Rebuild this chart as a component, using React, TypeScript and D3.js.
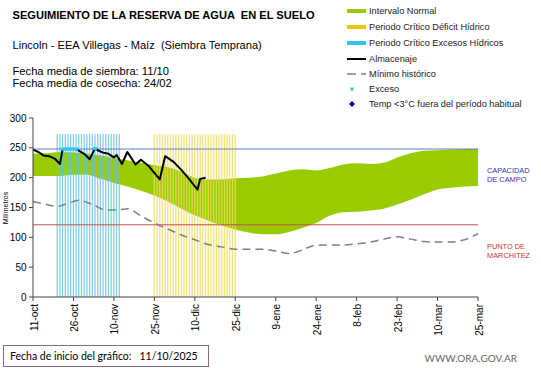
import * as React from 'react';
import * as d3 from 'd3';

// days counted from 11-oct
const tickLabels = ['11-oct', '26-oct', '10-nov', '25-nov', '10-dic', '25-dic', '9-ene', '24-ene', '8-feb', '23-feb', '10-mar', '25-mar'];

const bandDays = [0, 5, 10, 15, 20, 25, 30, 35, 40, 45, 50, 55, 60, 65, 70, 75, 80, 85, 90, 95, 100, 105, 110, 115, 120, 125, 130, 135, 140, 145, 150, 155, 160, 165];
const bandHigh = [240, 241, 243, 242, 240, 237, 233, 229, 225, 221, 218, 210, 200, 197, 197, 199, 200, 202, 207, 212, 214, 212, 216, 222, 224, 223, 225, 234, 241, 245, 246, 247, 248, 248];
const bandLow = [203, 203, 203, 205, 205, 198, 191, 185, 178, 170, 160, 148, 137, 128, 120, 113, 108, 105, 105, 109, 116, 124, 136, 142, 143, 145, 148, 155, 163, 172, 180, 183, 185, 186];

const minDays = [0, 5, 9, 13, 17, 22, 27, 32, 35, 40, 45, 50, 55, 60, 65, 70, 75, 80, 85, 90, 95, 100, 104, 110, 115, 120, 125, 130, 135, 140, 145, 150, 155, 160, 165];
const minValues = [160, 155, 152, 157, 162, 155, 146, 146, 148, 136, 124, 114, 104, 96, 88, 84, 80, 80, 80, 77, 73, 79, 86, 87, 87, 89, 92, 97, 101, 97, 93, 92, 92, 96, 106];

const storageDays = [0, 2, 4, 6, 8, 10, 11, 16, 19, 21, 23, 24, 26, 28, 30, 31, 33, 35, 38, 40, 43, 47, 49, 52, 55, 58, 61, 62, 64];
const storageValues = [247, 243, 237, 236, 232, 223, 248, 248, 240, 231, 249, 246, 242, 240, 234, 238, 223, 243, 222, 230, 219, 197, 236, 227, 213, 197, 180, 198, 200];

const excessDays = [11, 12, 13, 14, 15, 16, 23];
const excessValues = [248, 248, 248, 248, 248, 248, 249];

const wetPeriod = [9, 32];
const dryPeriod = [45, 75];
const periodTop = 273;

const fieldCapacity = 248;
const wiltingPoint = 121;

const legendItems = [
  'Intervalo Normal',
  'Periodo Crítico Déficit Hídrico',
  'Periodo Crítico Excesos Hídricos',
  'Almacenaje',
  'Mínimo histórico',
  'Exceso',
  'Temp <3°C fuera del período habitual',
];

const x = d3.scaleLinear().domain([0, 165]).range([33, 478]);
const y = d3.scaleLinear().domain([0, 300]).range([297, 118]);

const pre = { whiteSpace: 'pre' } as React.CSSProperties;

export default function App() {
  const band = bandDays.map((d, i) => ({ d, hi: bandHigh[i], lo: bandLow[i] }));
  const bandPath = d3.area<any>()
    .x(p => x(p.d)).y0(p => y(p.lo)).y1(p => y(p.hi))
    .curve(d3.curveMonotoneX)(band);
  const minPath = d3.line<number>()
    .x((_, i) => x(minDays[i])).y(v => y(v))
    .curve(d3.curveMonotoneX)(minValues);
  const storagePath = d3.line<number>()
    .x((_, i) => x(storageDays[i])).y(v => y(v))(storageValues);

  const wetBars = d3.range(wetPeriod[0], wetPeriod[1] + 1);
  const dryBars = d3.range(dryPeriod[0], dryPeriod[1] + 1);
  const ticks = tickLabels.map((t, i) => ({ t, d: i * 15 }));

  const font = 'Liberation Sans, Arial, sans-serif';
  const lx = 347;
  const rowsY = [11, 27, 43, 59, 74, 89, 104];

  return (
    <div style={{ position: 'fixed', left: 0, top: 0 }}>
      <svg width={541} height={368} style={{ display: 'block', background: '#fff' }} fontFamily={font}>
        <text x={12.5} y={19} fontSize={11.1} fontWeight="bold" style={pre}>SEGUIMIENTO DE LA RESERVA DE AGUA  EN EL SUELO</text>
        <text x={12.5} y={49} fontSize={11.1} style={pre}>Lincoln - EEA Villegas - Maíz  (Siembra Temprana)</text>
        <text x={12.5} y={75} fontSize={11.2}>Fecha media de siembra: 11/10</text>
        <text x={12.5} y={87} fontSize={11.2}>Fecha media de cosecha: 24/02</text>

        {/* legend */}
        <g fontSize={9.2} fill="#222">
          <rect x={lx} y={rowsY[0] - 2} width={19} height={4} fill="#99cc00" />
          <rect x={lx} y={rowsY[1] - 2} width={19} height={4} fill="#f5c400" />
          <rect x={lx} y={rowsY[2] - 2} width={19} height={4} fill="#33c3ee" />
          <line x1={lx} x2={lx + 19} y1={rowsY[3]} y2={rowsY[3]} stroke="#000" strokeWidth={2} />
          <line x1={lx} x2={lx + 19} y1={rowsY[4]} y2={rowsY[4]} stroke="#808080" strokeWidth={1.5} strokeDasharray="9,5" />
          <rect x={lx + 3.5} y={rowsY[5] - 1.5} width={3} height={3} fill="#33c3ee" />
          <path d={`M${lx + 5},${rowsY[6] - 3}L${lx + 8},${rowsY[6]}L${lx + 5},${rowsY[6] + 3}L${lx + 2},${rowsY[6]}Z`} fill="#000099" />
          {legendItems.map((t, i) => (
            <text key={t} x={lx + 22} y={rowsY[i] + 3.3}>{t}</text>
          ))}
        </g>

        {/* normal interval */}
        <path d={bandPath || ''} fill="#99cc00" />

        {/* critical periods */}
        {wetBars.map(d => (
          <rect key={'w' + d} x={x(d) - 0.7} y={y(periodTop)} width={1.3} height={y(0) - y(periodTop)} fill="#5cc8e8" opacity={0.8} />
        ))}
        {dryBars.map(d => (
          <rect key={'s' + d} x={x(d) - 0.7} y={y(periodTop)} width={1.3} height={y(0) - y(periodTop)} fill="#f0dc60" opacity={0.8} />
        ))}

        {/* reference lines */}
        <line x1={x(0)} x2={x(165)} y1={y(fieldCapacity)} y2={y(fieldCapacity)} stroke="#5b7fc4" strokeWidth={1} />
        <line x1={x(0)} x2={x(165)} y1={y(wiltingPoint)} y2={y(wiltingPoint)} stroke="#c0504d" strokeWidth={1} />

        <path d={minPath || ''} fill="none" stroke="#808080" strokeWidth={1.5} strokeDasharray="8,5" />
        <path d={storagePath || ''} fill="none" stroke="#000" strokeWidth={2} strokeLinejoin="round" />
        {excessDays.map((d, i) => (
          <rect key={'e' + d} x={x(d) - 2} y={y(excessValues[i]) - 1.5} width={4} height={3} fill="#33c3ee" />
        ))}

        {/* axes */}
        <line x1={x(0)} x2={x(0)} y1={y(0)} y2={y(300)} stroke="#444" />
        <line x1={x(0)} x2={x(165)} y1={y(0)} y2={y(0)} stroke="#444" />
        {d3.range(0, 301, 50).map(v => (
          <g key={'y' + v}>
            <line x1={x(0) - 4} x2={x(0)} y1={y(v)} y2={y(v)} stroke="#444" />
            <text x={x(0) - 6.5} y={y(v) + 3.5} fontSize={10} textAnchor="end">{v}</text>
          </g>
        ))}
        {ticks.map(k => (
          <g key={k.t}>
            <line x1={x(k.d)} x2={x(k.d)} y1={y(0)} y2={y(0) + 4} stroke="#444" />
            <text transform={`translate(${x(k.d) + 4.5},${y(0) + 7}) rotate(-90)`} fontSize={10} textAnchor="end">{k.t}</text>
          </g>
        ))}
        <text transform={`translate(8,208) rotate(-90)`} fontSize={7} textAnchor="middle">Milímetros</text>

        {/* right labels */}
        <g fontSize={7.4} style={pre}>
          <text x={487} y={173} fill="#3333bb">CAPACIDAD</text>
          <text x={487} y={182} fill="#3333bb">DE  CAMPO</text>
          <text x={487} y={249} fill="#cc3333">PUNTO  DE</text>
          <text x={487} y={258} fill="#cc3333">MARCHITEZ</text>
        </g>

        {/* footer */}
        <rect x={3.5} y={345.5} width={205} height={21} fill="#fff" stroke="#8b6f6f" />
        <text x={10} y={360} fontSize={10.5} fontFamily="Lato, sans-serif" style={pre}>Fecha de inicio del gráfico:   11/10/2025</text>
        <text x={517} y={362} fontSize={10} fill="#666" textAnchor="end" fontFamily="Lato, sans-serif">WWW.ORA.GOV.AR</text>
      </svg>
    </div>
  );
}
